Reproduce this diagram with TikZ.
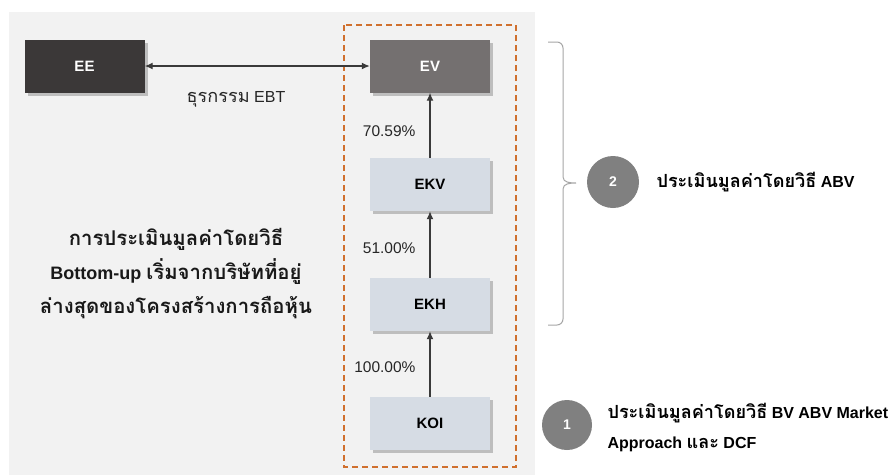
\documentclass[tikz,border=0pt]{standalone}
\usepackage{fontspec}
\setmainfont{Liberation Sans}
\newfontfamily\tf[Script=Thai,Scale=1.13]{Loma}
\usetikzlibrary{arrows.meta,shadows}
\definecolor{panel}{HTML}{F2F2F2}
\definecolor{eedark}{HTML}{3B3838}
\definecolor{evgray}{HTML}{747070}
\definecolor{boxblue}{HTML}{D6DCE4}
\definecolor{dashorange}{HTML}{D0702E}
\definecolor{circgray}{HTML}{808080}
\definecolor{bracegray}{HTML}{A6A6A6}
\definecolor{arrowdark}{HTML}{3A3A3A}
\tikzset{
  entity/.style={minimum width=120pt,minimum height=53pt,inner sep=0pt,
    font=\fontsize{15}{18}\selectfont\bfseries,
    drop shadow={shadow xshift=3pt,shadow yshift=-3pt,fill=black!30,opacity=0.8}},
  darkbox/.style={entity,fill=eedark,text=white},
  midbox/.style={entity,fill=evgray,text=white},
  lightbox/.style={entity,fill=boxblue,text=black},
  arr/.style={draw=arrowdark,line width=1.3pt,-{Latex[length=8pt,width=7pt]}},
  pct/.style={anchor=east,font=\fontsize{15.5}{18}\selectfont,text=black!85},
  numcirc/.style={circle,fill=circgray,text=white,inner sep=0pt,font=\fontsize{14}{16}\selectfont\bfseries},
  sidetext/.style={anchor=west,align=left,font=\fontsize{16}{30}\selectfont\bfseries}
}
\begin{document}
\begin{tikzpicture}[x=1pt,y=-1pt]
\useasboundingbox (0,0) rectangle (895,475);
\fill[white] (0,0) rectangle (895,475);
\fill[panel] (9,12) rectangle (535,475);
\draw[dashorange,line width=1.2pt,dash pattern=on 6pt off 4pt] (344,25) rectangle (516,467);

\node[darkbox] (EE) at (84.5,66) {EE};
\node[midbox] (EV) at (430,66) {EV};
\node[lightbox] (EKV) at (430,184.5) {EKV};
\node[lightbox] (EKH) at (430,304.5) {EKH};
\node[lightbox] (KOI) at (430,423.5) {KOI};

\draw[draw=arrowdark,line width=1.3pt,{Latex[length=8pt,width=7pt]}-{Latex[length=8pt,width=7pt]}] (EE) -- (EV);
\draw[arr] (EKV) -- (EV);
\draw[arr] (EKH) -- (EKV);
\draw[arr] (KOI) -- (EKH);

\node[font=\fontsize{16}{18}\selectfont,text=black!85] (ebt) at (236,99) {{\tf ธุรกรรม} EBT};
\node[pct] (p1) at (419,131) {70.59\%};
\node[pct] (p2) at (419,248) {51.00\%};
\node[pct] (p3) at (419,367) {100.00\%};

\node[align=center,font=\fontsize{18}{34}\selectfont\bfseries,text=black!90] (centertext) at (176,274)
  {{\tf การประเมินมูลค่าโดยวิธี}\\Bottom-up {\tf เริ่มจากบริษัทที่อยู่}\\{\tf ล่างสุดของโครงสร้างการถือหุ้น}};

\draw[bracegray,line width=1pt] (548,42) -- (557,42) to[out=0,in=90] (563,48) -- (563,177)
  to[out=-90,in=180] (576,183) to[out=180,in=90] (563,189) -- (563,319) to[out=-90,in=0] (557,325) -- (548,325);

\node[numcirc,minimum size=52pt] (c2) at (613,182) {2};
\node[sidetext] (t2) at (653,182) {{\tf ประเมินมูลค่าโดยวิธี} ABV};

\node[numcirc,minimum size=50pt] (c1) at (567,425) {1};
\node[sidetext] (t1) at (604,427) {{\tf ประเมินมูลค่าโดยวิธี} BV ABV Market\\Approach {\tf และ} DCF};
\end{tikzpicture}
\end{document}
